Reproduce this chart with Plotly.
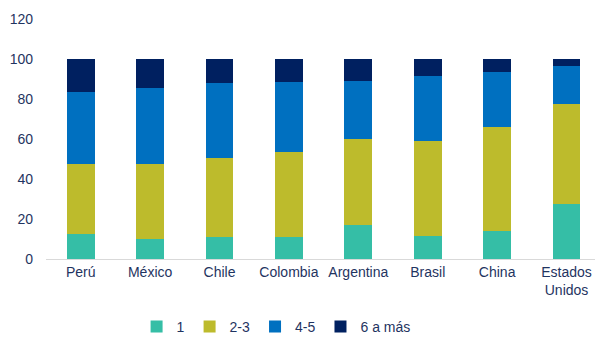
import plotly.graph_objects as go

categories = ["Perú", "México", "Chile", "Colombia", "Argentina", "Brasil", "China", "Estados<br>Unidos"]
s1 = [12.5, 9.8, 11.0, 10.8, 17.2, 11.7, 14.2, 27.7]
s23 = [35.0, 37.9, 39.5, 42.7, 42.6, 47.3, 51.6, 49.6]
s45 = [36.2, 37.8, 37.5, 34.8, 29.2, 32.3, 27.7, 19.0]
s6 = [16.3, 14.5, 12.0, 11.7, 11.0, 8.7, 6.5, 3.7]

series = [("1", s1, "#35BEA6"), ("2-3", s23, "#BDBB2C"), ("4-5", s45, "#0070C0"), ("6 a más", s6, "#002060")]

text_color = "#1F3461"
fig = go.Figure()
for name, vals, col in series:
    fig.add_trace(go.Bar(x=categories, y=vals, name=name, marker=dict(color=col, line=dict(width=0))))

fig.update_layout(
    barmode="stack",
    bargap=0.6,
    width=595, height=338,
    margin=dict(l=46, r=0, t=19, b=79, autoexpand=False),
    plot_bgcolor="white", paper_bgcolor="white",
    font=dict(family="Liberation Sans, Arial", size=14, color=text_color),
    showlegend=True,
    legend=dict(orientation="h", x=0.165, xanchor="left", y=-0.283, yanchor="middle",
                font=dict(size=14, color=text_color), itemwidth=30, traceorder="normal"),
    xaxis=dict(range=[-0.5, 7.41], showgrid=False, showline=True, linecolor="#D9D9D9", linewidth=1,
               ticks="", tickfont=dict(size=14, color=text_color), automargin=False),
    yaxis=dict(range=[0, 120], dtick=20, showgrid=False, zeroline=False, showline=False,
               ticks="", tickfont=dict(size=14, color=text_color), ticklabelstandoff=12, automargin=False),
)
fig.write_html("out.html")
